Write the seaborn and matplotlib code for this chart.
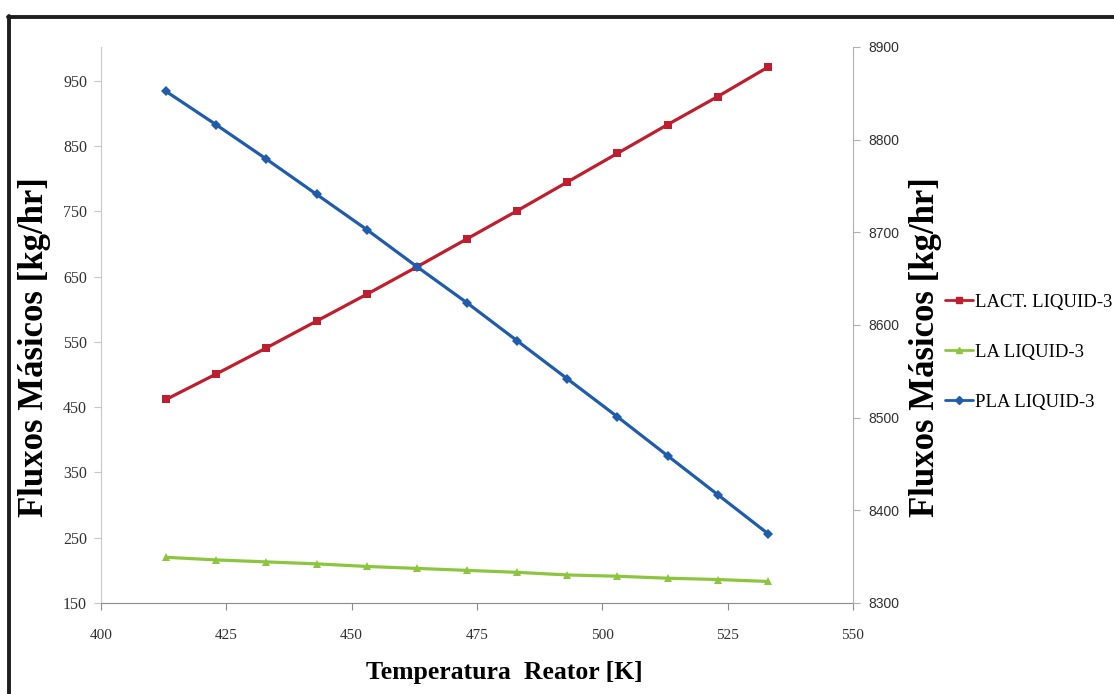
import matplotlib.pyplot as plt
import matplotlib.lines as mlines
import seaborn as sns

# dados
temps = [413, 423, 433, 443, 453, 463, 473, 483, 493, 503, 513, 523, 533]
lact = [462, 501, 541, 582, 623, 665, 708, 751, 795, 839, 883, 926, 971]
la = [220, 216, 213, 210, 206, 203, 200, 197, 193, 191, 188, 186, 183]
pla = [8852, 8816, 8779, 8741, 8703, 8663, 8624, 8583, 8542, 8501, 8459, 8417, 8375]
series_names = ['LACT. LIQUID-3', 'LA LIQUID-3', 'PLA LIQUID-3']
left_ticks = [150, 250, 350, 450, 550, 650, 750, 850, 950]
right_ticks = [8300, 8400, 8500, 8600, 8700, 8800, 8900]
x_ticks = [400, 425, 450, 475, 500, 525, 550]

sns.set_style('white')
plt.rcParams['font.family'] = ['Liberation Serif', 'DejaVu Serif']

fig = plt.figure(figsize=(11.14, 6.94), dpi=100)
ax = fig.add_axes([101/1114, 91/694, 752/1114, 556/694])
ax2 = ax.twinx()

red, green, blue = '#BE1E2D', '#8CC63F', '#1F5CAB'
sns.lineplot(x=temps, y=lact, ax=ax, color=red, marker='s', markersize=6,
             markeredgewidth=0, linewidth=2.3, label=series_names[0], legend=False)
sns.lineplot(x=temps, y=la, ax=ax, color=green, marker='^', markersize=6,
             markeredgewidth=0, linewidth=2.3, label=series_names[1], legend=False)
sns.lineplot(x=temps, y=pla, ax=ax2, color=blue, marker='D', markersize=5,
             markeredgewidth=0, linewidth=2.3, label=series_names[2], legend=False)

ax.set_xlim(400, 550)
ax.set_ylim(150, 1002)
ax2.set_ylim(8300, 8900)
ax.set_xticks(x_ticks)
ax.set_yticks(left_ticks)
ax2.set_yticks(right_ticks)
ax.set_xticklabels([str(t) for t in x_ticks], fontsize=11, color='#303030')
ax.set_yticklabels([str(t) for t in left_ticks], fontsize=11.5, color='#303030')
ax2.set_yticklabels([str(t) for t in right_ticks], fontsize=10, color='#303030')

for a in (ax, ax2):
    a.set_xlabel('')
    a.set_ylabel('')
    a.spines['top'].set_visible(False)
    a.grid(False)
ax.spines['left'].set_color('#c8c8c8')
ax.spines['bottom'].set_color('#8c8c8c')
ax.spines['right'].set_visible(False)
ax2.spines['left'].set_visible(False)
ax2.spines['bottom'].set_visible(False)
ax2.spines['right'].set_color('#b0b0b0')
ax.tick_params(axis='x', direction='out', length=5, color='#8c8c8c', pad=14, bottom=True)
ax.tick_params(axis='y', direction='out', length=5, color='#c8c8c8', pad=5, left=True)
ax2.tick_params(axis='y', direction='out', length=5, color='#b0b0b0', pad=6, right=True,
                labelfontfamily='Liberation Sans')

fig.text(35/1114, 0.5, 'Fluxos Másicos [kg/hr]', rotation=90, ha='center', va='center',
         fontsize=25, fontweight='bold', color='black')
fig.text(925/1114, 0.5, 'Fluxos Másicos [kg/hr]', rotation=90, ha='center', va='center',
         fontsize=25, fontweight='bold', color='black')
fig.text(504/1114, 1 - 673/694, 'Temperatura  Reator [K]', ha='center', va='center',
         fontsize=18.5, fontweight='bold', color='black')

handles = ax.get_lines()[:2] + ax2.get_lines()[:1]
leg_handles = [mlines.Line2D([], [], color=h.get_color(), marker=h.get_marker(),
                             markersize=4, linewidth=2) for h in handles]
leg = fig.legend(leg_handles, series_names, loc='center left',
                 bbox_to_anchor=(945/1114, 1 - 352/694), frameon=False, fontsize=13.5,
                 handlelength=1.5, handletextpad=0.1, labelspacing=1.75,
                 borderpad=0, borderaxespad=0)
for t in leg.get_texts():
    t.set_color('black')

# moldura escura da imagem
fig.add_artist(mlines.Line2D([8/1114, 1.0], [1 - 17/694, 1 - 17/694], color='#1e1e1e',
                             linewidth=2.8, transform=fig.transFigure))
fig.add_artist(mlines.Line2D([9/1114, 9/1114], [0.0, 1 - 16/694], color='#1e1e1e',
                             linewidth=2.8, transform=fig.transFigure))

plt.savefig('out.png', dpi=100)
